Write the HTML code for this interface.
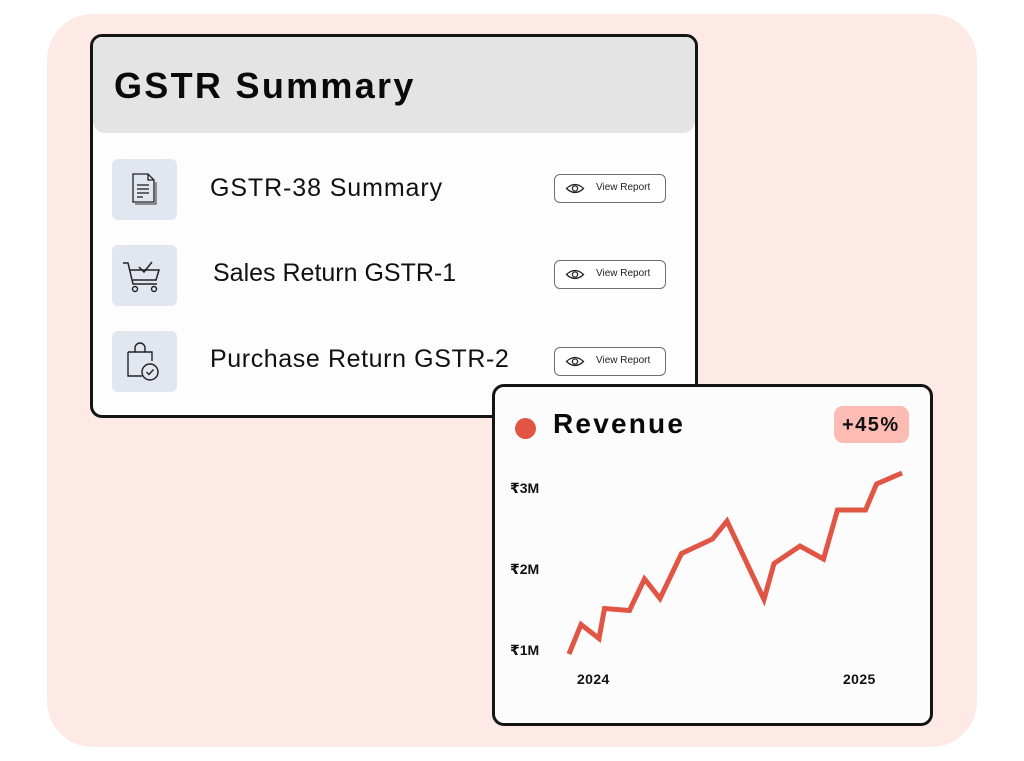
<!DOCTYPE html>
<html>
<head>
<meta charset="utf-8">
<style>
  html,body{margin:0;padding:0;}
  body{width:1024px;height:761px;position:relative;background:#ffffff;overflow:hidden;font-family:"Liberation Sans","DejaVu Sans",sans-serif;}
  .bgpanel{position:absolute;left:47px;top:14px;width:930px;height:733px;background:#fde9e6;border-radius:46px;}
  .card1{position:absolute;left:90px;top:34px;width:602px;height:378px;border:3px solid #141414;border-radius:12px;background:#fdfdfd;overflow:hidden;}
  .hdr{position:absolute;left:0;top:0;width:602px;height:96px;background:#e4e4e4;border-radius:0 0 12px 12px;}
  .title{position:absolute;left:21px;top:28px;font-size:36px;font-weight:bold;color:#0a0a0a;letter-spacing:2.3px;line-height:42px;white-space:nowrap;}
  .ibox{position:absolute;left:19px;width:65px;height:61px;background:#e2e6f0;border-radius:6px;}
  .rtext{position:absolute;font-size:25px;color:#111;line-height:30px;white-space:nowrap;letter-spacing:0.9px;}
  .btn{position:absolute;left:461px;width:110px;height:27px;border:1.5px solid #6f6f6f;border-radius:6px;background:#fff;}
  .btn svg{position:absolute;left:10px;top:7px;}
  .btn span{position:absolute;left:41px;top:7px;font-size:10px;color:#222;line-height:12px;white-space:nowrap;}
  .card2{position:absolute;left:492px;top:384px;width:435px;height:336px;border:3px solid #141414;border-radius:12px;background:#fcfcfc;}
  .dot{position:absolute;left:20px;top:31px;width:21px;height:21px;border-radius:50%;background:#e05543;}
  .rev{position:absolute;left:58px;top:20px;font-size:28px;font-weight:bold;color:#0a0a0a;letter-spacing:2.2px;line-height:34px;white-space:nowrap;}
  .badge{position:absolute;left:339px;top:19px;width:75px;height:37px;background:#fdbcb3;border-radius:9px;}
  .badge span{position:absolute;left:8px;top:8px;font-size:20px;font-weight:bold;color:#111;letter-spacing:1.5px;line-height:22px;}
  .ylab{position:absolute;left:15px;font-size:14px;font-weight:bold;color:#111;line-height:16px;white-space:nowrap;}
  .xlab{position:absolute;font-size:14px;font-weight:bold;color:#111;line-height:16px;letter-spacing:0.4px;}
</style>
</head>
<body>
<div class="bgpanel"></div>

<div class="card1">
  <div class="hdr"></div>
  <div class="title">GSTR Summary</div>

  <div class="ibox" style="top:122px;">
    <svg width="65" height="61" viewBox="0 0 65 61">
      <path d="M21 15 H36 L42 21 V43 H21 Z" fill="none" stroke="#222" stroke-width="1.3"/>
      <path d="M36 15 V21 H42" fill="none" stroke="#222" stroke-width="1.3"/>
      <path d="M23 45 H44 V23" fill="none" stroke="#555" stroke-width="1.2"/>
      <line x1="25" y1="26" x2="37" y2="26" stroke="#222" stroke-width="1.3"/>
      <line x1="25" y1="30" x2="37" y2="30" stroke="#222" stroke-width="1.3"/>
      <line x1="25" y1="34" x2="37" y2="34" stroke="#222" stroke-width="1.3"/>
      <line x1="25" y1="38" x2="31" y2="38" stroke="#222" stroke-width="1.3"/>
    </svg>
  </div>
  <div class="ibox" style="top:208px;">
    <svg width="65" height="61" viewBox="0 0 65 61">
      <path d="M11 18 H16 L21 39 H45" fill="none" stroke="#222" stroke-width="1.5"/>
      <path d="M18 25 H47 L44 35 H21" fill="none" stroke="#222" stroke-width="1.5"/>
      <path d="M27 22 L32 27 L40 17" fill="none" stroke="#222" stroke-width="1.5"/>
      <circle cx="23" cy="44" r="2.5" fill="none" stroke="#222" stroke-width="1.4"/>
      <circle cx="42" cy="44" r="2.5" fill="none" stroke="#222" stroke-width="1.4"/>
    </svg>
  </div>
  <div class="ibox" style="top:294px;">
    <svg width="65" height="61" viewBox="0 0 65 61">
      <path d="M16 21 H40 V30 M30 45 H16 V21" fill="none" stroke="#222" stroke-width="1.4"/>
      <path d="M23 21 V17 A5 5 0 0 1 33 17 V21" fill="none" stroke="#222" stroke-width="1.4"/>
      <circle cx="38" cy="41" r="8" fill="#e2e6f0" stroke="#222" stroke-width="1.4"/>
      <path d="M34.5 41 L37 43.5 L41.5 38.5" fill="none" stroke="#222" stroke-width="1.4"/>
    </svg>
  </div>

  <div class="rtext" style="left:117px;top:136px;">GSTR-38 Summary</div>
  <div class="rtext" style="left:120px;top:221px;letter-spacing:0px;">Sales Return GSTR-1</div>
  <div class="rtext" style="left:117px;top:307px;letter-spacing:0.6px;">Purchase Return GSTR-2</div>

  <div class="btn" style="top:137px;">
    <svg width="20" height="13" viewBox="0 0 20 13"><path d="M1.5 6.5 Q10 -1.5 18.5 6.5 Q10 14.5 1.5 6.5 Z" fill="none" stroke="#222" stroke-width="1.3"/><circle cx="10" cy="6.5" r="2.6" fill="none" stroke="#222" stroke-width="1.3"/></svg>
    <span>View Report</span>
  </div>
  <div class="btn" style="top:223px;">
    <svg width="20" height="13" viewBox="0 0 20 13"><path d="M1.5 6.5 Q10 -1.5 18.5 6.5 Q10 14.5 1.5 6.5 Z" fill="none" stroke="#222" stroke-width="1.3"/><circle cx="10" cy="6.5" r="2.6" fill="none" stroke="#222" stroke-width="1.3"/></svg>
    <span>View Report</span>
  </div>
  <div class="btn" style="top:310px;">
    <svg width="20" height="13" viewBox="0 0 20 13"><path d="M1.5 6.5 Q10 -1.5 18.5 6.5 Q10 14.5 1.5 6.5 Z" fill="none" stroke="#222" stroke-width="1.3"/><circle cx="10" cy="6.5" r="2.6" fill="none" stroke="#222" stroke-width="1.3"/></svg>
    <span>View Report</span>
  </div>
</div>

<div class="card2">
  <div class="dot"></div>
  <div class="rev">Revenue</div>
  <div class="badge"><span>+45%</span></div>
  <div class="ylab" style="top:93px;">₹3M</div>
  <div class="ylab" style="top:174px;">₹2M</div>
  <div class="ylab" style="top:255px;">₹1M</div>
  <div class="xlab" style="left:82px;top:284px;">2024</div>
  <div class="xlab" style="left:348px;top:284px;">2025</div>
</div>

<svg style="position:absolute;left:0;top:0;" width="1024" height="761" viewBox="0 0 1024 761">
  <polyline fill="none" stroke="#e05543" stroke-width="5" stroke-linejoin="miter" stroke-miterlimit="3"
    points="569,654 581,624.5 599,638.5 604.5,608.5 629.5,610.5 644.5,579 660,598.5 681.5,553.5 712.5,539 727,521 764,599.5 774,563.5 800,546 823.5,559 837.5,510 865.5,510 876.5,484 902,473"/>
</svg>
</body>
</html>
